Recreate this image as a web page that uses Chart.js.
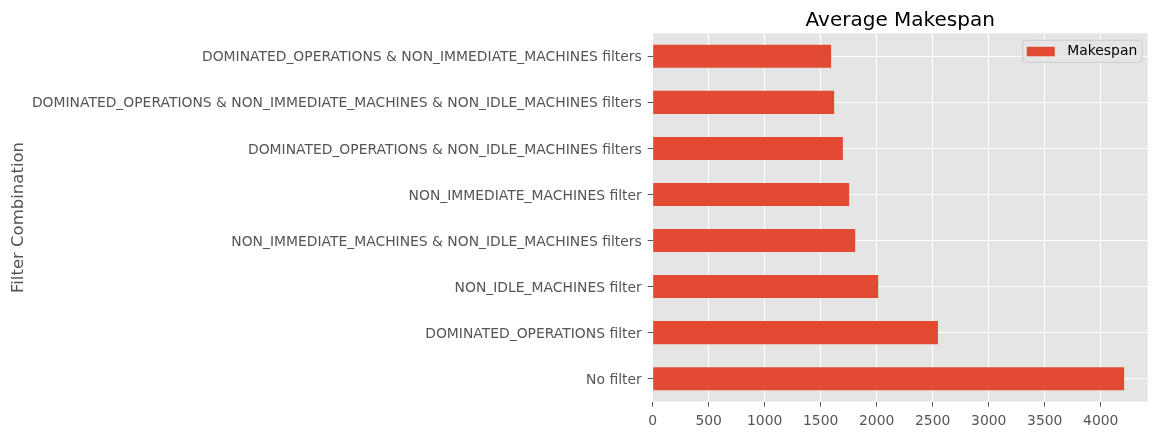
<!DOCTYPE html>
<html>
<head>
<meta charset="utf-8">
<script src="https://cdn.jsdelivr.net/npm/chart.js@4.4.0/dist/chart.umd.min.js"></script>
<style>
  html, body { margin: 0; padding: 0; background: #ffffff; }
  #wrap { width: 1157px; height: 436px; position: relative; }
</style>
</head>
<body>
<div id="wrap"><canvas id="c"></canvas></div>
<script>
const categories = [
  "DOMINATED_OPERATIONS & NON_IMMEDIATE_MACHINES filters",
  "DOMINATED_OPERATIONS & NON_IMMEDIATE_MACHINES & NON_IDLE_MACHINES filters",
  "DOMINATED_OPERATIONS & NON_IDLE_MACHINES filters",
  "NON_IMMEDIATE_MACHINES filter",
  "NON_IMMEDIATE_MACHINES & NON_IDLE_MACHINES filters",
  "NON_IDLE_MACHINES filter",
  "DOMINATED_OPERATIONS filter",
  "No filter"
];
const makespan = [1593, 1620, 1698, 1754, 1808, 2013, 2547, 4209];
const seriesLabel = "Makespan";
const chartTitle = "Average Makespan";
const yAxisTitle = "Filter Combination";
const xTickStep = 500;

const FONT = "'DejaVu Sans', sans-serif";
const TICK_COLOR = "#555555";

const bgPlugin = {
  id: 'plotBg',
  beforeDraw(chart) {
    const {ctx, chartArea: a} = chart;
    ctx.save();
    ctx.fillStyle = '#E5E5E5';
    ctx.fillRect(a.left, a.top, a.right - a.left, a.bottom - a.top);
    ctx.restore();
  }
};

const titleLegendPlugin = {
  id: 'titleLegend',
  afterDraw(chart) {
    const {ctx, chartArea: a} = chart;
    ctx.save();
    ctx.font = "20px " + FONT;
    ctx.fillStyle = '#000000';
    ctx.textAlign = 'center';
    ctx.textBaseline = 'alphabetic';
    ctx.fillText(chartTitle, (a.left + a.right) / 2, 25.5);

    const label = chart.data.datasets[0].label;
    ctx.font = "13.9px " + FONT;
    const tw = ctx.measureText(label).width;
    const boxR = a.right - 5.5;
    const boxW = 4 + 28 + 12.5 + tw + 5;
    const boxL = boxR - boxW;
    const boxT = a.top + 7;
    const boxH = 22;
    const r = 3;
    ctx.beginPath();
    ctx.moveTo(boxL + r, boxT);
    ctx.lineTo(boxR - r, boxT);
    ctx.quadraticCurveTo(boxR, boxT, boxR, boxT + r);
    ctx.lineTo(boxR, boxT + boxH - r);
    ctx.quadraticCurveTo(boxR, boxT + boxH, boxR - r, boxT + boxH);
    ctx.lineTo(boxL + r, boxT + boxH);
    ctx.quadraticCurveTo(boxL, boxT + boxH, boxL, boxT + boxH - r);
    ctx.lineTo(boxL, boxT + r);
    ctx.quadraticCurveTo(boxL, boxT, boxL + r, boxT);
    ctx.closePath();
    ctx.fillStyle = 'rgba(229,229,229,0.8)';
    ctx.fill();
    ctx.strokeStyle = '#CCCCCC';
    ctx.lineWidth = 1;
    ctx.stroke();
    ctx.fillStyle = chart.data.datasets[0].backgroundColor;
    ctx.fillRect(boxL + 4, boxT + 6.5, 28, 9.5);
    ctx.fillStyle = '#000000';
    ctx.textAlign = 'left';
    ctx.textBaseline = 'middle';
    ctx.fillText(label, boxL + 4 + 28 + 12.5, boxT + boxH / 2 + 0.5);
    ctx.restore();
  }
};

const xMax = Math.max(...makespan) * 1.05;

new Chart(document.getElementById('c'), {
  type: 'bar',
  data: {
    labels: categories,
    datasets: [{
      label: seriesLabel,
      data: makespan,
      backgroundColor: '#E24A33',
      borderWidth: 0,
      barPercentage: 0.5,
      categoryPercentage: 1.0
    }]
  },
  options: {
    indexAxis: 'y',
    responsive: true,
    maintainAspectRatio: false,
    animation: false,
    devicePixelRatio: 1,
    layout: { padding: { top: 33.3, right: 9.3, bottom: 0, left: 0 } },
    plugins: {
      legend: { display: false },
      title: { display: false },
      tooltip: { enabled: false }
    },
    scales: {
      x: {
        type: 'linear',
        min: 0,
        max: xMax,
        border: { display: false },
        grid: { color: '#FFFFFF', lineWidth: 1, tickColor: TICK_COLOR, tickLength: 5, drawTicks: true },
        ticks: {
          color: TICK_COLOR, font: { family: FONT, size: 13.9 }, padding: 6, maxRotation: 0, autoSkip: false,
          callback: (v) => String(v)
        },
        afterBuildTicks(scale) {
          const t = [];
          for (let v = 0; v <= scale.max + 1e-9; v += xTickStep) t.push({ value: v });
          scale.ticks = t;
        },
        afterFit(scale) { scale.height = 34.3; }
      },
      y: {
        type: 'category',
        offset: true,
        border: { display: false },
        grid: { offset: false, color: '#FFFFFF', lineWidth: 1, tickColor: TICK_COLOR, tickLength: 5, drawTicks: true },
        ticks: { color: TICK_COLOR, font: { family: FONT, size: 13.9 }, padding: 6, labelOffset: 1.5 },
        title: { display: true, text: yAxisTitle, color: TICK_COLOR, font: { family: FONT, size: 16.5 }, padding: { top: 9, bottom: 0 } },
        afterFit(scale) { scale.width = 652.7; }
      }
    }
  },
  plugins: [bgPlugin, titleLegendPlugin]
});
</script>
</body>
</html>
